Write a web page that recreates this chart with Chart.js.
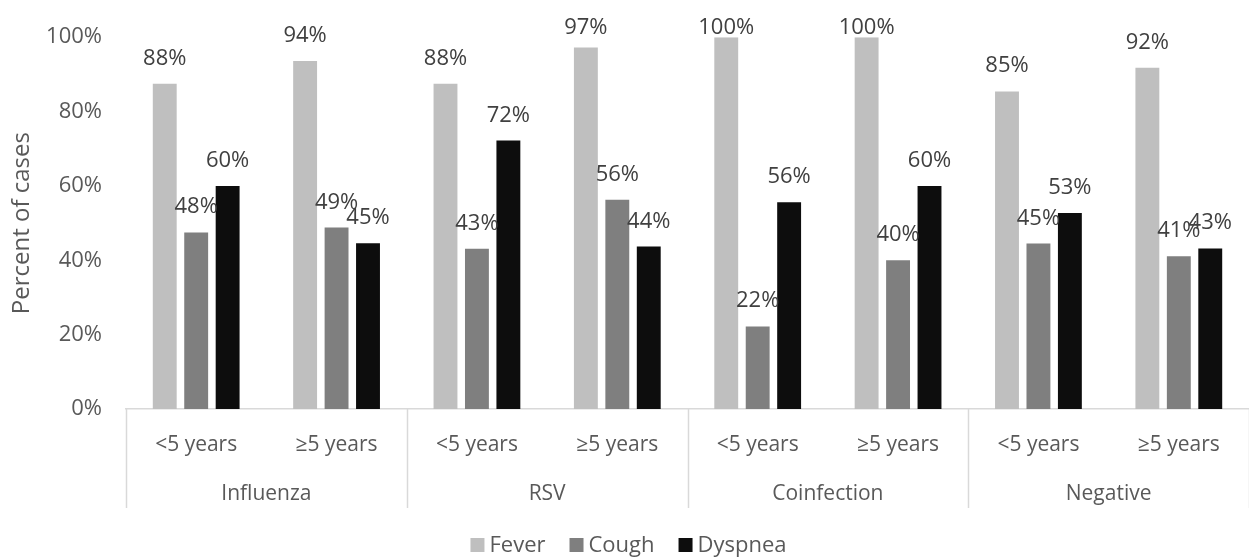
<!DOCTYPE html>
<html>
<head>
<meta charset="utf-8">
<script src="https://cdn.jsdelivr.net/npm/chart.js@4"></script>
<style>
  html, body { margin: 0; padding: 0; background: #ffffff; }
  #wrap { width: 1249px; height: 558px; position: relative; }
</style>
</head>
<body>
<div id="wrap"><canvas id="c" width="1249" height="558"></canvas></div>
<script>
// ---- data ----
const ageLabels = ['<5 years', '\u22655 years', '<5 years', '\u22655 years', '<5 years', '\u22655 years', '<5 years', '\u22655 years'];
const groupLabels = ['Influenza', 'RSV', 'Coinfection', 'Negative'];
const seriesNames = ['Fever', 'Cough', 'Dyspnea'];
const fever   = [87.5, 93.6, 87.5, 97.2, 100, 100, 85.4, 91.8];
const cough   = [47.5, 48.8, 43.1, 56.3, 22.2, 40.0, 44.5, 41.1];
const dyspnea = [60.0, 44.6, 72.2, 43.7, 55.6, 60.0, 52.7, 43.2];
const yTicks  = [0, 20, 40, 60, 80, 100];
const seriesColors = ['#bfbfbf', '#7f7f7f', '#0d0d0d'];

const FONT = "'Open Sans', 'DejaVu Sans', sans-serif";

const dataLabelPlugin = {
  id: 'dataLabels',
  afterDatasetsDraw(chart) {
    const ctx = chart.ctx;
    ctx.save();
    ctx.font = '22px ' + FONT;
    ctx.fillStyle = '#404040';
    ctx.textAlign = 'center';
    ctx.textBaseline = 'alphabetic';
    chart.data.datasets.forEach((ds, di) => {
      const meta = chart.getDatasetMeta(di);
      meta.data.forEach((el, i) => {
        const y = Math.max(el.y - 19, 34);
        ctx.fillText(Math.round(ds.data[i]) + '%', el.x, y);
      });
    });
    ctx.restore();
  }
};

const groupAxisPlugin = {
  id: 'groupAxis',
  afterDraw(chart) {
    const ctx = chart.ctx;
    const xs = chart.scales.x;
    const top = chart.chartArea.bottom;
    const n = ageLabels.length;
    const half = (xs.getPixelForValue(1) - xs.getPixelForValue(0)) / 2;
    ctx.save();
    ctx.strokeStyle = '#d9d9d9';
    ctx.lineWidth = 1.5;
    for (let g = 0; g <= groupLabels.length; g++) {
      const idx = g * 2;
      const x = idx < n ? xs.getPixelForValue(idx) - half : xs.getPixelForValue(n - 1) + half;
      ctx.beginPath();
      ctx.moveTo(Math.round(x) + 0.5, top);
      ctx.lineTo(Math.round(x) + 0.5, top + 99);
      ctx.stroke();
    }
    ctx.font = '21px ' + FONT;
    ctx.fillStyle = '#595959';
    ctx.textAlign = 'center';
    ctx.textBaseline = 'alphabetic';
    groupLabels.forEach((lab, g) => {
      const x = (xs.getPixelForValue(2 * g) + xs.getPixelForValue(2 * g + 1)) / 2;
      ctx.fillText(lab, x, top + 91);
    });
    ctx.restore();
  }
};

const legendPlugin = {
  id: 'customLegend',
  afterDraw(chart) {
    const ctx = chart.ctx;
    ctx.save();
    ctx.font = '22px ' + FONT;
    const box = 14, gapBoxText = 5, gapItems = 24;
    const items = chart.data.datasets.map(ds => ({ text: ds.label, color: ds.backgroundColor, w: ctx.measureText(ds.label).width }));
    let total = 0;
    items.forEach((it, i) => { total += box + gapBoxText + it.w + (i < items.length - 1 ? gapItems : 0); });
    let x = chart.width / 2 - total / 2 + 4;
    const cy = 545;
    ctx.textBaseline = 'middle';
    ctx.textAlign = 'left';
    items.forEach(it => {
      ctx.fillStyle = it.color;
      ctx.fillRect(x, cy - box / 2, box, box);
      x += box + gapBoxText;
      ctx.fillStyle = '#595959';
      ctx.fillText(it.text, x, cy + 1);
      x += it.w + gapItems;
    });
    ctx.restore();
  }
};

new Chart(document.getElementById('c'), {
  type: 'bar',
  data: {
    labels: ageLabels,
    datasets: seriesNames.map((name, i) => ({
      label: name,
      data: [fever, cough, dyspnea][i],
      backgroundColor: seriesColors[i]
    }))
  },
  options: {
    responsive: false,
    animation: false,
    devicePixelRatio: 1,
    datasets: { bar: { categoryPercentage: 0.672, barPercentage: 0.76 } },
    layout: { padding: { top: 36, right: 0, left: 0, bottom: 44 } },
    plugins: {
      tooltip: { enabled: false },
      legend: { display: false }
    },
    scales: {
      x: {
        grid: { display: false, drawTicks: false },
        border: { display: true, color: '#d9d9d9', width: 1.5 },
        ticks: { font: { family: FONT, size: 21 }, color: '#595959', padding: 23, maxRotation: 0, autoSkip: false },
        afterFit(scale) { scale.height = 105; }
      },
      y: {
        min: 0, max: 100,
        grid: { display: false, drawTicks: false },
        border: { display: false },
        afterBuildTicks(scale) { scale.ticks = yTicks.map(v => ({ value: v })); },
        afterFit(scale) { scale.width = 126; },
        ticks: {
          font: { family: FONT, size: 22 },
          color: '#595959',
          padding: 24,
          callback: v => v + '%'
        },
        title: {
          display: true,
          text: 'Percent of cases',
          font: { family: FONT, size: 24 },
          color: '#595959',
          padding: { top: 8, bottom: 0 }
        }
      }
    }
  },
  plugins: [dataLabelPlugin, groupAxisPlugin, legendPlugin]
});
</script>
</body>
</html>
